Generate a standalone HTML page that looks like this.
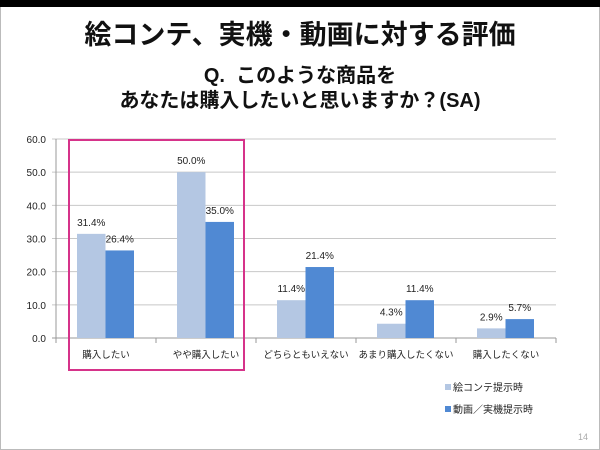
<!DOCTYPE html>
<html><head><meta charset="utf-8"><style>
body{margin:0;width:600px;height:450px;overflow:hidden;background:#fff;font-family:"Liberation Sans","Noto Sans CJK JP",sans-serif;}
#frame{position:absolute;left:0;top:0;width:598px;height:448px;border:1px solid #bbb;}
#topbar{position:absolute;left:0;top:0;width:600px;height:7px;background:#000;}
#title{position:absolute;left:0;width:600px;top:13px;text-align:center;font-size:27px;font-weight:bold;color:#111;}
#q{position:absolute;left:0;width:600px;top:64px;text-align:center;font-size:20px;font-weight:bold;color:#111;line-height:25px;}
#pg{position:absolute;left:578px;top:432px;font-size:9px;color:#aaa;}
svg{position:absolute;left:0;top:0;}
</style></head><body>
<div id="frame"></div>
<div id="topbar"></div>
<div id="title">絵コンテ、実機・動画に対する評価</div>
<div id="q">Q.&nbsp; このような商品を<br>あなたは購入したいと思いますか？(SA)</div>
<div id="pg">14</div>
<svg id="chart" width="600" height="450"></svg>
<script>
const categories=["購入したい","やや購入したい","どちらともいえない","あまり購入したくない","購入したくない"];
const seriesA=[31.4,50.0,11.4,4.3,2.9];
const seriesB=[26.4,35.0,21.4,11.4,5.7];
const seriesNames=["絵コンテ提示時","動画／実機提示時"];
const yTicks=[0,10,20,30,40,50,60];
const NS="http://www.w3.org/2000/svg";
const svg=document.getElementById('chart');
const X0=56,X1=556,Y0=338,Y1=139,YMAX=60;
const y=v=>Y0-(v/YMAX)*(Y0-Y1);
const catW=(X1-X0)/categories.length;
const x=i=>X0+i*catW;
function mk(t,a){const e=document.createElementNS(NS,t);for(const k in a)e.setAttribute(k,a[k]);svg.appendChild(e);return e;}
yTicks.forEach(t=>{
  const l=mk('line',{x1:X0-4,x2:X1,y1:y(t),y2:y(t),stroke:t===0?'#999':'#c8c8c8','stroke-width':1});
  
  
  const tx=mk('text',{x:X0-10,y:y(t)+4,'text-anchor':'end','font-size':10,fill:'#222'});
  tx.textContent=t.toFixed(1);
  
  
});
const ax=mk('line',{x1:X0,x2:X0,y1:Y1,y2:Y0,stroke:'#999'});


for(let i=0;i<=categories.length;i++){const tk=mk('line',{x1:x(i),x2:x(i),y1:Y0,y2:Y0+5,stroke:'#999'});

}
const bw=28.5;
categories.forEach((c,i)=>{
  [[seriesA,'#b4c7e3',0],[seriesB,'#5089d3',1]].forEach(([s,col,k])=>{
    const bx=x(i)+21+k*bw;
    const r=mk('rect',{x:bx,y:y(s[i]),width:bw,height:Y0-y(s[i]),fill:col});
    
    
    const t=mk('text',{x:bx+bw/2,y:y(s[i])-8,'text-anchor':'middle','font-size':10,fill:'#222'});
    t.textContent=s[i].toFixed(1)+'%';
    
    
  });
  const cl=mk('text',{x:x(i)+catW/2,y:358,'text-anchor':'middle','font-size':9.5,fill:'#222'});
  cl.textContent=c;
  
  
});
const hb=mk('rect',{x:69,y:140,width:175,height:230,fill:'none',stroke:'#d6338a','stroke-width':2});


seriesNames.forEach((n,k)=>{
  const ly=388+k*22;
  const sq=mk('rect',{x:445,y:ly-4,width:6,height:6,fill:k?'#5089d3':'#b4c7e3'});
  
  
  const lt=mk('text',{x:453,y:ly+3,'font-size':10,fill:'#222'});
  lt.textContent=n;
  
  
});
</script>
</body></html>
